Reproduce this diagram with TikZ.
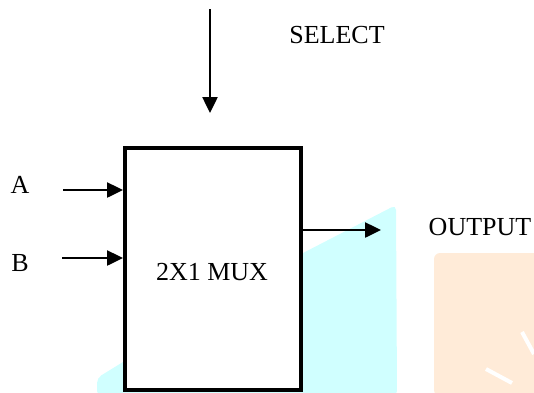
\documentclass[tikz,border=0pt]{standalone}
\usepackage{fontspec}
\setmainfont{Liberation Serif}
\usetikzlibrary{arrows.meta}
\definecolor{wmcyan}{RGB}{208,255,255}
\definecolor{wmorange}{RGB}{255,235,216}
\tikzset{
  lbl/.style={font=\fontsize{26}{30}\selectfont, inner sep=0pt},
  sig/.style={line width=2.5pt, -{Triangle[length=16pt,width=15pt]}},
  muxbox/.style={draw, line width=4pt, fill=white, inner sep=0pt, minimum width=176pt, minimum height=242pt, font=\fontsize{26}{30}\selectfont}
}
\begin{document}
\begin{tikzpicture}[x=1pt,y=-1pt]
\useasboundingbox (0,0) rectangle (534,392);
% watermark shapes
\fill[wmcyan, rounded corners=5pt] (97,396) -- (97,378) -- (123,362) -- (303,253) -- (396,205) -- (397,396) -- cycle;
\fill[wmorange, rounded corners=6pt] (434,396) -- (434,253) -- (540,253) -- (540,396) -- cycle;
\draw[white, line width=4pt] (522,332) -- (534,354);
\draw[white, line width=4pt] (486,369) -- (512,383);
% diagram
\node[muxbox] (mux) at (213,269) {};
\node[lbl] (muxlbl) at (212,272) {2X1 MUX};
\node[lbl] (sel) at (337,35) {SELECT};
\node[lbl] (a) at (20,185) {A};
\node[lbl] (b) at (20,263) {B};
\node[lbl] (out) at (480,227) {OUTPUT};
\coordinate (selstart) at (210,9);
\coordinate (selend) at (210,113);
\coordinate (astart) at (63,190);
\coordinate (bstart) at (62,258);
\coordinate (outend) at (381,230);
\draw[sig] (selstart) -- (selend);
\draw[sig] (astart) -- (astart -| mux.west);
\draw[sig] (bstart) -- (bstart -| mux.west);
\draw[sig] (mux.east |- outend) -- (outend);
\end{tikzpicture}
\end{document}
